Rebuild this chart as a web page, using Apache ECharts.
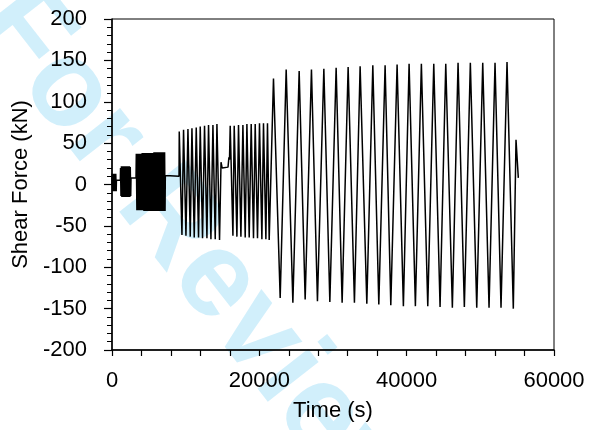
<!DOCTYPE html>
<html><head><meta charset="utf-8">
<script src="https://cdn.jsdelivr.net/npm/echarts@6/dist/echarts.min.js"></script>
<style>html,body{margin:0;padding:0;background:#fff}#c{width:590px;height:430px}</style>
</head><body><div id="c"></div>
<script>
// [time (s), shear force (kN)]
const stage1 = [[0,0],[30,13],[90,-8],[150,13],[210,-8],[270,13],[330,-8],[390,13],[450,-8],[510,13],[570,-8],[600,5],[1130,5]];
const stage2 = [[1160,20],[1220,-14],[1280,22],[1340,-15],[1400,22],[1460,-15],[1520,22],[1580,-15],[1640,22],[1700,-15],[1760,22],[1820,-15],[1880,22],[1940,-15],[2000,22],[2060,-15],[2120,22],[2180,-15],[2240,22],[2300,-15],[2360,22],[2420,-15],[2480,21],[2540,-14],[2580,8],[3260,8]];
const stage3 = [[3300,37],[3380,-31],[3460,37],[3540,-31],[3620,37],[3700,-31],[3780,37],[3860,-31],[3940,37],[4020,-31],[4100,38],[4180,-31],[4260,38],[4340,-32],[4420,38],[4500,-32],[4580,38],[4660,-32],[4740,38],[4820,-32],[4900,38],[4980,-32],[5060,38],[5140,-32],[5220,38],[5300,-32],[5380,38],[5460,-32],[5540,38],[5620,-32],[5700,39],[5780,-32],[5860,39],[5940,-32],[6020,39],[6100,-32],[6180,39],[6260,-32],[6340,39],[6420,-32],[6500,39],[6580,-32],[6660,39],[6740,-32],[6820,39],[6900,-32],[6980,39],[7060,-32],[7140,39],[7200,-32],[7240,11],[9100,10]];
const stage4 = [[9129,64],[9496,-61],[9713,66],[10038,-62],[10309,67],[10622,-63],[10852,68],[11164,-64],[11436,69],[11747,-64],[11978,70],[12290,-65],[12561,71],[12887,-65],[13104,72],[13429,-66],[13701,72],[14013,-66],[14244,73],[14596,-67],[14800,27],[14950,20],[15750,21],[15870,33],[15950,30]];
const stage5 = [[16047,71],[16414,-62],[16590,71],[16956,-63],[17173,72],[17499,-63],[17770,72],[18083,-64],[18313,73],[18625,-64],[18896,73],[19209,-65],[19439,73],[19751,-65],[20022,74],[20348,-66],[20565,74],[20890,-66],[21107,74],[21338,-67]];
const stage6 = [[21921,128],[22830,-137],[23644,139],[24553,-143],[25407,137],[26221,-139],[27076,139],[27890,-141],[28758,140],[29572,-142],[30426,141],[31240,-143],[32054,142],[32909,-143],[33682,143],[34591,-144],[35405,144],[36219,-145],[37073,144],[37846,-146],[38701,145],[39555,-147],[40329,146],[41184,-147],[41997,146],[42865,-147],[43679,146],[44534,-148],[45307,146],[46203,-149],[46976,147],[47830,-148],[48644,147],[49512,-149],[50326,147],[51181,-149],[51995,147],[52808,-149],[53623,148],[54477,-150],[54843,54],[55156,8]];
const xLabelValues = [0, 20000, 40000, 60000];
const xTitle = 'Time (s)';
const yTitle = 'Shear Force (kN)';
const watermark = 'For Review';

const data = [].concat(stage1, stage2, stage3, stage4, stage5, stage6);
const FONT = 'Liberation Sans';
const chart = echarts.init(document.getElementById('c'), null, {renderer: 'canvas'});
chart.setOption({
  animation: false,
  backgroundColor: '#fff',
  graphic: [{
    type: 'text', z: -10, silent: true,
    x: -1, y: 3, rotation: -52 * Math.PI / 180,
    style: {text: watermark, fill: 'rgba(0,165,235,0.18)', fontSize: 122, fontWeight: 'bold', fontFamily: FONT, align: 'left', verticalAlign: 'middle'}
  }],
  grid: {left: 112, right: 36, top: 19, bottom: 80, show: true, borderColor: '#000', borderWidth: 1, backgroundColor: 'transparent'},
  xAxis: {
    type: 'value', min: 0, max: 60000, interval: 4000,
    axisLine: {onZero: false, lineStyle: {color: '#000', width: 1.5}},
    axisTick: {inside: false, length: 6, lineStyle: {color: '#000', width: 1.2}},
    axisLabel: {margin: 20, color: '#000', fontSize: 22, fontFamily: FONT, showMinLabel: true, showMaxLabel: true,
      formatter: v => xLabelValues.includes(v) ? String(v) : ''},
    splitLine: {show: false},
    name: xTitle, nameLocation: 'middle', nameGap: 50,
    nameTextStyle: {color: '#000', fontSize: 22, fontFamily: FONT}
  },
  yAxis: {
    type: 'value', min: -200, max: 200, interval: 50,
    axisLine: {onZero: false, lineStyle: {color: '#000', width: 1.5}},
    axisTick: {inside: false, length: 8, lineStyle: {color: '#000', width: 1.2}},
    minorTick: {show: true, splitNumber: 5, length: 5, lineStyle: {color: '#000', width: 1}},
    axisLabel: {margin: 25, color: '#000', fontSize: 22, fontFamily: FONT},
    splitLine: {show: false}, minorSplitLine: {show: false},
    name: yTitle, nameLocation: 'middle', nameGap: 76, nameRotate: 90,
    nameTextStyle: {color: '#000', fontSize: 22, fontFamily: FONT}
  },
  series: [{
    type: 'line', data: data, symbol: 'none', showSymbol: false, silent: true,
    lineStyle: {color: '#000', width: 1.5}
  }]
});
</script></body></html>
